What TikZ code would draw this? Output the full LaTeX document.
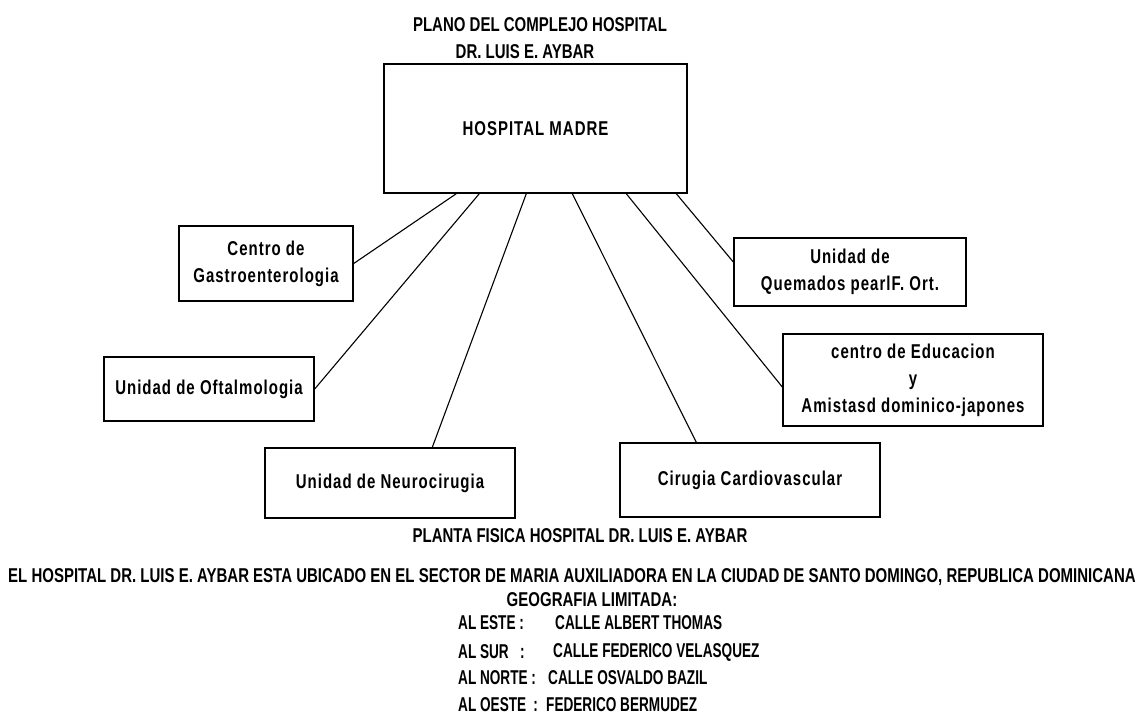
\documentclass[tikz,border=0pt]{standalone}
\usepackage{fontspec}
\setmainfont[FakeStretch=0.75]{Liberation Sans}
\newfontfamily\boxfont[FakeStretch=0.75,LetterSpace=5]{Liberation Sans}
\newfontfamily\listfont[FakeStretch=0.68]{Liberation Sans}
\usetikzlibrary{positioning}

\begin{document}
\begin{tikzpicture}[x=1pt,y=-1pt, font=\fontsize{20}{27}\selectfont\bfseries,
  every node/.style={inner sep=0pt},
  box/.style={shape=rectangle, draw=black, line width=1.4pt, align=center,
    font=\boxfont\fontsize{20}{27}\selectfont\bfseries},
  lim/.style={anchor=west, font=\listfont\fontsize{20}{27}\selectfont\bfseries},
  link/.style={line width=1.1pt}]
\useasboundingbox (0,0) rectangle (1144,715);
% titulo
\node[] (t1) at (540,25) {PLANO DEL COMPLEJO HOSPITAL};
\node[] (t2) at (525,52) {DR. LUIS E. AYBAR};
% edificios
\node[box, minimum width=303, minimum height=129] (madre) at (535.5,128.5) {HOSPITAL MADRE};
\node[box, minimum width=174, minimum height=75] (gastro) at (266,263.5) {Centro de\\Gastroenterologia};
\node[box, minimum width=210, minimum height=64] (oftal) at (209,389) {Unidad de Oftalmologia};
\node[box, minimum width=250, minimum height=70] (neuro) at (390,483) {Unidad de Neurocirugia};
\node[box, minimum width=260, minimum height=74] (cardio) at (750,480) {Cirugia Cardiovascular};
\node[box, minimum width=260, minimum height=92] (edu) at (913,380) {centro de Educacion\\y\\Amistasd dominico-japones};
\node[box, minimum width=232, minimum height=68] (quem) at (850,272) {Unidad de\\Quemados pearlF. Ort.};
\draw[link] (gastro.east) -- ([xshift=73pt]madre.south west);
\draw[link] (oftal.east) -- ([xshift=96pt]madre.south west);
\draw[link] ([xshift=168pt]neuro.north west) -- ([xshift=143pt]madre.south west);
\draw[link] ([xshift=77pt]cardio.north west) -- ([xshift=189pt]madre.south west);
\draw[link] ([yshift=-7pt]edu.west) -- ([xshift=243pt]madre.south west);
\draw[link] ([yshift=10pt]quem.west) -- ([xshift=293pt]madre.south west);
% texto de abajo
\node[] (planta) at (580,536) {PLANTA FISICA HOSPITAL DR. LUIS E. AYBAR};
\node[] (ubic) at (572,577) {EL HOSPITAL DR. LUIS E. AYBAR ESTA UBICADO EN EL SECTOR DE MARIA AUXILIADORA EN LA CIUDAD DE SANTO DOMINGO, REPUBLICA DOMINICANA};
\node[] (geo) at (592,600) {GEOGRAFIA LIMITADA:};
\node[lim] (este) at (458,623) {AL ESTE :};
\node[lim] (estec) at (555,623) {CALLE ALBERT THOMAS};
\node[lim] (sur) at (458,652) {AL SUR \ \ :};
\node[lim] (surc) at (553,652) {CALLE FEDERICO VELASQUEZ};
\node[lim] (norte) at (458,678) {AL NORTE :};
\node[lim] (nortec) at (548,678) {CALLE OSVALDO BAZIL};
\node[lim] (oeste) at (458,705) {AL OESTE \,:};
\node[lim] (oestec) at (546,705) {FEDERICO BERMUDEZ};
\end{tikzpicture}
\end{document}
